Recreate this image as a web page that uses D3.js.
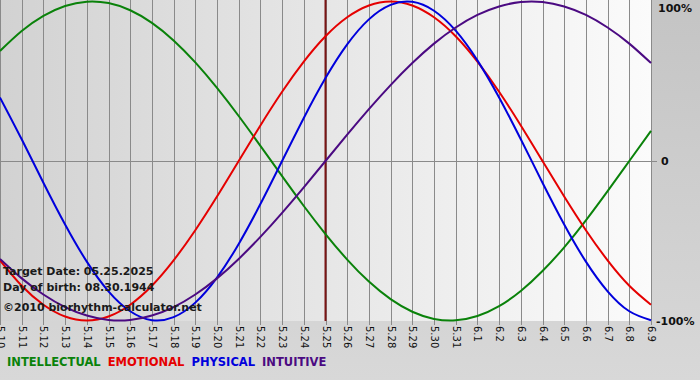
<!DOCTYPE html>
<html>
<head>
<meta charset="utf-8">
<script src="https://cdn.jsdelivr.net/npm/d3@7"></script>
<style>
  body { margin: 0; background: #cfcfcf; }
  svg { display: block; }
</style>
</head>
<body>
<div id="chart"></div>
<script>
const svgWidth = 700;
const svgHeight = 380;

// day labels, 5.10 .. 6.9
const days = ["5.10", "5.11", "5.12", "5.13", "5.14", "5.15", "5.16", "5.17", "5.18", "5.19", "5.20",
  "5.21", "5.22", "5.23", "5.24", "5.25", "5.26", "5.27", "5.28", "5.29", "5.30", "5.31",
  "6.1", "6.2", "6.3", "6.4", "6.5", "6.6", "6.7", "6.8", "6.9"];

const intellectual = [0.690, 0.815, 0.910, 0.972, 0.999, 0.990, 0.945, 0.866, 0.756, 0.618, 0.458, 0.282, 0.095,
  -0.095, -0.282, -0.458, -0.618, -0.756, -0.866, -0.945, -0.990, -0.999, -0.972, -0.910, -0.815, -0.690, -0.541,
  -0.372, -0.189, 0.000, 0.189];
const emotional = [-0.623, -0.782, -0.901, -0.975, -1.000, -0.975, -0.901, -0.782, -0.623, -0.434, -0.223, 0.000,
  0.223, 0.434, 0.623, 0.782, 0.901, 0.975, 1.000, 0.975, 0.901, 0.782, 0.623, 0.434, 0.223, 0.000, -0.223, -0.434,
  -0.623, -0.782, -0.901];
const physical = [0.398, 0.136, -0.136, -0.398, -0.631, -0.817, -0.942, -0.998, -0.979, -0.888, -0.731, -0.520,
  -0.270, 0.000, 0.270, 0.520, 0.731, 0.888, 0.979, 0.998, 0.942, 0.817, 0.631, 0.398, 0.136, -0.136, -0.398,
  -0.631, -0.817, -0.942, -0.998];
const intuitive = [-0.614, -0.736, -0.837, -0.916, -0.969, -0.997, -0.997, -0.969, -0.916, -0.837, -0.736, -0.614,
  -0.476, -0.325, -0.165, 0.000, 0.165, 0.325, 0.476, 0.614, 0.736, 0.837, 0.916, 0.969, 0.997, 0.997, 0.969,
  0.916, 0.837, 0.736, 0.614];

const targetDay = "5.25";
const yTicks = [1, 0, -1];
const yTickLabels = ["100%", "0", "-100%"];

const series = [
  { name: "INTELLECTUAL", values: intellectual, color: "#0a820a" },
  { name: "EMOTIONAL", values: emotional, color: "#e50000" },
  { name: "PHYSICAL", values: physical, color: "#0000dc" },
  { name: "INTUITIVE", values: intuitive, color: "#4b0a82" }
];

const infoLines = ["Target Date: 05.25.2025", "Day of birth: 08.30.1944", "\u00a92010 biorhythm-calculator.net"];

const plot = { left: 0, top: 0, right: 651, bottom: 321 };
const font = "'DejaVu Sans', Verdana, sans-serif";

const svg = d3.select("#chart")
  .append("svg")
  .attr("width", svgWidth)
  .attr("height", svgHeight);

const defs = svg.append("defs");
const grad = defs.append("linearGradient").attr("id", "bg").attr("x1", 0).attr("x2", 1).attr("y1", 0).attr("y2", 0);
grad.append("stop").attr("offset", "0%").attr("stop-color", "#d2d2d2");
grad.append("stop").attr("offset", "100%").attr("stop-color", "#fbfbfb");

const pageGrad = defs.append("linearGradient").attr("id", "page").attr("x1", 0).attr("x2", 0).attr("y1", 0).attr("y2", 1);
pageGrad.append("stop").attr("offset", "0%").attr("stop-color", "#c4c4c4");
pageGrad.append("stop").attr("offset", "100%").attr("stop-color", "#d8d8d8");

svg.append("rect").attr("width", svgWidth).attr("height", svgHeight).attr("fill", "url(#page)");

const x = d3.scalePoint()
  .domain(days)
  .range([plot.left, plot.right]);

const y = d3.scaleLinear()
  .domain([-1, 1])
  .range([plot.bottom - 0.5, plot.top + 1.5]);

svg.append("rect")
  .attr("x", plot.left)
  .attr("y", plot.top)
  .attr("width", plot.right - plot.left)
  .attr("height", plot.bottom - plot.top)
  .attr("fill", "url(#bg)");

// vertical grid + ticks
const xAxis = d3.axisBottom(x).tickSize(plot.bottom - plot.top + 4).tickSizeOuter(0);
const xg = svg.append("g")
  .attr("transform", `translate(0, ${plot.top})`)
  .call(xAxis);
xg.select(".domain").remove();
xg.selectAll(".tick line")
  .attr("stroke", "#8a8a8a")
  .attr("shape-rendering", "crispEdges");
xg.selectAll(".tick text")
  .attr("transform", `translate(0, ${plot.bottom + 5}) rotate(90)`)
  .attr("x", 0)
  .attr("y", 0)
  .attr("dy", "0.35em")
  .attr("text-anchor", "start")
  .attr("fill", "#111")
  .style("font", `10px ${font}`);

// right labels
const yAxis = d3.axisRight(y).tickValues(yTicks).tickSize(0)
  .tickFormat((d, i) => yTickLabels[i]);
const yg = svg.append("g")
  .attr("transform", `translate(${plot.right}, 0)`)
  .call(yAxis);
yg.select(".domain").remove();
yg.selectAll(".tick text")
  .attr("x", d => d === 0 ? 10 : (d > 0 ? 7 : 5))
  .attr("dy", d => d > 0 ? "0.9em" : "0.35em")
  .attr("fill", "#111")
  .style("font", `bold 11px ${font}`);

// horizontal zero line
svg.append("line")
  .attr("x1", plot.left).attr("x2", plot.right + 6)
  .attr("y1", Math.round(y(0)) + 0.5).attr("y2", Math.round(y(0)) + 0.5)
  .attr("stroke", "#8a8a8a");

svg.append("line")
  .attr("x1", plot.right + 0.5).attr("x2", plot.right + 0.5)
  .attr("y1", plot.top).attr("y2", plot.bottom)
  .attr("stroke", "#8a8a8a");

// target day marker
svg.append("line")
  .attr("x1", x(targetDay)).attr("x2", x(targetDay))
  .attr("y1", plot.top).attr("y2", plot.bottom)
  .attr("stroke", "#7a1414")
  .attr("stroke-width", 2);

// curves
const line = d3.line()
  .x((d, i) => x(days[i]))
  .y(d => y(d))
  .curve(d3.curveNatural);

svg.append("g")
  .selectAll("path")
  .data(series)
  .join("path")
  .attr("d", d => line(d.values))
  .attr("fill", "none")
  .attr("stroke", d => d.color)
  .attr("stroke-width", 2);

// info text
svg.append("g")
  .selectAll("text")
  .data(infoLines)
  .join("text")
  .attr("x", 3)
  .attr("y", (d, i) => [275, 291, 311][i])
  .attr("fill", "#1a1a1a")
  .style("font", `bold 11px ${font}`)
  .text(d => d);

// legend
const legend = svg.append("g").attr("transform", "translate(7, 366)");
let lx = 0;
series.forEach(s => {
  const t = legend.append("text")
    .attr("x", lx)
    .attr("fill", s.color)
    .style("font", `bold 11.5px ${font}`)
    .text(s.name);
  lx += t.node().getComputedTextLength() + 7;
});
</script>
</body>
</html>
